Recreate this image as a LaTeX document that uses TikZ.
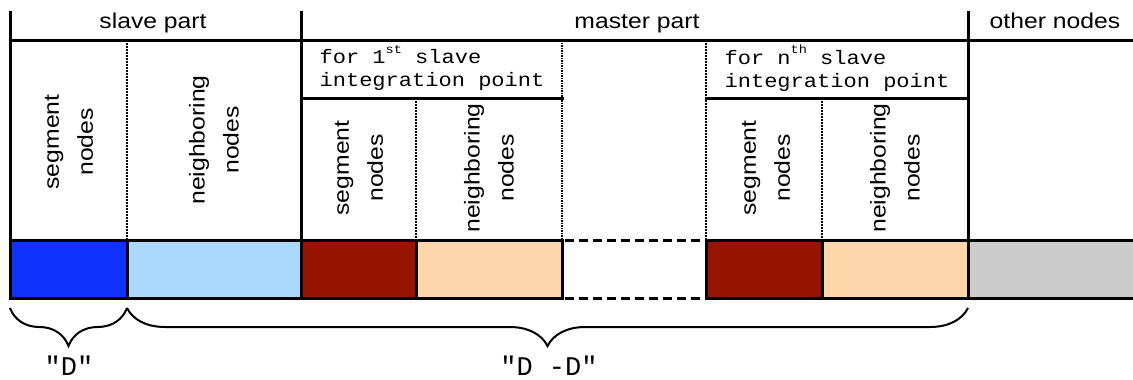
\documentclass[tikz,border=0pt]{standalone}
\usepackage{fontspec}
\setmainfont{Liberation Sans}
\setsansfont{Liberation Sans}
\setmonofont{Liberation Mono}
\usetikzlibrary{decorations.pathreplacing}
\definecolor{cblue}{RGB}{16,50,255}
\definecolor{clblue}{RGB}{170,216,255}
\definecolor{cred}{RGB}{150,20,0}
\definecolor{cpeach}{RGB}{255,214,170}
\definecolor{cgray}{RGB}{204,204,204}
\newcommand{\supr}[1]{\raisebox{0.55em}{\fontsize{12}{12}\selectfont #1}}
\begin{document}
\begin{tikzpicture}[x=1pt,y=-1pt,
  frame/.style={line width=3pt,line cap=rect},
  thindot/.style={line width=1.2pt,dash pattern=on 1.5pt off 1.5pt},
  densedot/.style={line width=2pt,dash pattern=on 1.5pt off 1pt},
  dashline/.style={line width=3pt,dash pattern=on 9pt off 5pt},
  sanslbl/.style={font=\fontsize{21.5}{34}\selectfont,xscale=1.15,inner sep=0pt,align=center},
  vlbl/.style={rotate=90,sanslbl},
  monolbl/.style={font=\fontsize{19.5}{23}\selectfont\ttfamily,xscale=1.13,inner sep=0pt,align=left},
  bracelbl/.style={font=\fontsize{27}{27}\selectfont\ttfamily,inner sep=0pt},
  bracestyle/.style={decorate,decoration={brace,mirror,amplitude=38pt},line width=2pt}
]
\useasboundingbox (0,0) rectangle (1133,380);
% bar fills
\fill[cblue] (10,240) rectangle (127,298);
\fill[clblue] (127,240) rectangle (301,298);
\fill[cred] (301,240) rectangle (416,298);
\fill[cpeach] (416,240) rectangle (562,298);
\fill[cred] (706,240) rectangle (822,298);
\fill[cpeach] (822,240) rectangle (968,298);
\fill[cgray] (968,240) rectangle (1133,298);
% dotted separators
\draw[thindot] (127,40) -- (127,240);
\draw[thindot] (416,98) -- (416,240);
\draw[densedot] (562,40) -- (562,240);
\draw[thindot] (706,40) -- (706,240);
\draw[thindot] (822,98) -- (822,240);
% main frame lines
\draw[frame] (10,12) -- (10,298);
\draw[frame] (301,12) -- (301,298);
\draw[frame] (968,12) -- (968,298);
\draw[frame] (10,40) -- (1133,40);
\draw[frame] (301,98) -- (562,98);
\draw[frame] (706,98) -- (968,98);
\draw[frame] (10,240) -- (562,240) (706,240) -- (1133,240);
\draw[frame] (10,298) -- (562,298) (706,298) -- (1133,298);
\draw[frame] (127,240) -- (127,298) (416,240) -- (416,298) (562,240) -- (562,298)
             (706,240) -- (706,298) (822,240) -- (822,298);
\draw[dashline] (565,240) -- (706,240) (565,298) -- (706,298);
% header labels
\node[sanslbl,anchor=base] (slavehdr) at (153,28) {slave part};
\node[sanslbl,anchor=base] (masterhdr) at (637,28) {master part};
\node[sanslbl,anchor=base] (otherhdr) at (1055,28) {other nodes};
% integration point headers
\node[monolbl] (firstip) at (432,68) {for 1\supr{st} slave\\integration point};
\node[monolbl] (nthip) at (837,68) {for n\supr{th} slave\\integration point};
% rotated labels
\node[vlbl] (sseg) at (69,142) {segment\\nodes};
\node[vlbl] (sneigh) at (214,140) {neighboring\\nodes};
\node[vlbl] (m1seg) at (359,168) {segment\\nodes};
\node[vlbl] (m1neigh) at (489,168) {neighboring\\nodes};
\node[vlbl] (mnseg) at (766,168) {segment\\nodes};
\node[vlbl] (mnneigh) at (895,168) {neighboring\\nodes};
% braces
\draw[bracestyle] (10,308) -- (127,308);
\draw[bracestyle] (127,308) -- (968,308);
\node[bracelbl,anchor=base] (dlbl) at (69,375) {"D"};
\node[bracelbl,anchor=base] (ddlbl) at (549,375) {"D -D"};
\end{tikzpicture}
\end{document}
